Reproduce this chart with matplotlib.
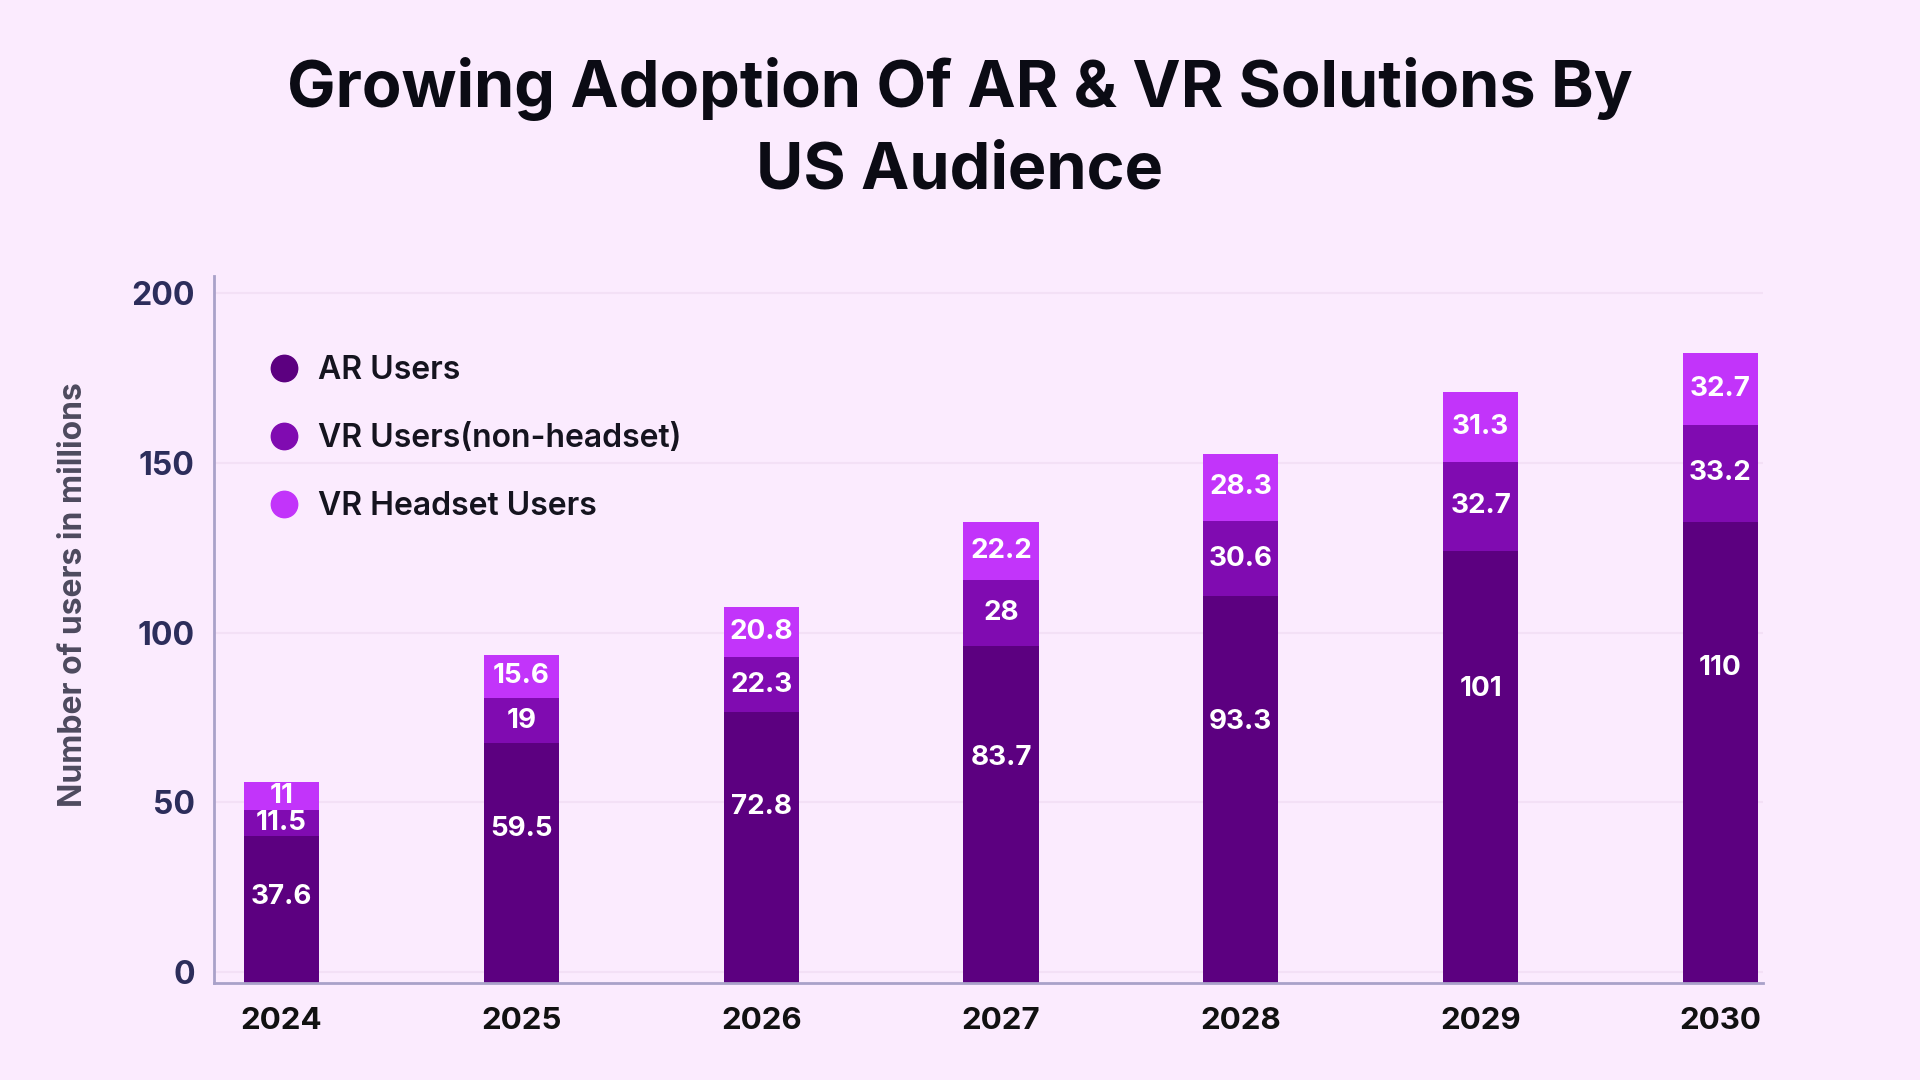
import matplotlib.pyplot as plt
from matplotlib.lines import Line2D
import numpy as np

plt.rcParams['font.family'] = ['Inter', 'DejaVu Sans']

years = ['2024', '2025', '2026', '2027', '2028', '2029', '2030']

# values printed on the bars
ar_users = [37.6, 59.5, 72.8, 83.7, 93.3, 101, 110]
vr_users = [11.5, 19, 22.3, 28, 30.6, 32.7, 33.2]
vr_headset = [11, 15.6, 20.8, 22.2, 28.3, 31.3, 32.7]

# segment heights as drawn in the source graphic (they don't follow the printed values)
ar_bar = [40.1, 67.5, 76.6, 96.2, 110.8, 124.2, 132.6]
vr_bar = [7.8, 13.2, 16.2, 19.2, 22.1, 26.1, 28.6]
headset_bar = [8.1, 12.8, 14.7, 17.2, 19.8, 20.6, 21.2]

series_names = ['AR Users', 'VR Users(non-headset)', 'VR Headset Users']
colors = ['#5c0080', '#800bb1', '#c234fa']
bg = '#fbebfe'

fig = plt.figure(figsize=(19.2, 10.8), dpi=100, facecolor=bg)
ax = fig.add_axes([0.1115, 0.0895, 0.8068, 0.655])
ax.set_facecolor(bg)

x = np.arange(len(years))
base = -3.3  # bars start on the axis line, a little under the 0 tick
w = 0.313
ar_h = np.array(ar_bar) - base
vr_bottom = np.array(ar_bar)
hs_bottom = vr_bottom + np.array(vr_bar)

ax.bar(x, ar_h, bottom=base, width=w, color=colors[0], zorder=2)
ax.bar(x, vr_bar, bottom=vr_bottom, width=w, color=colors[1], zorder=2)
ax.bar(x, headset_bar, bottom=hs_bottom, width=w, color=colors[2], zorder=2)

lab_kw = dict(color='white', fontsize=20, fontweight='bold', ha='center', va='center', zorder=3)
for i in range(len(years)):
    # AR labels sit in the upper part of the dark segment
    ax.text(x[i], 0.73 * ar_bar[i] - 7.2, f'{ar_users[i]:g}', **lab_kw)
    ax.text(x[i], vr_bottom[i] + vr_bar[i] / 2, f'{vr_users[i]:g}', **lab_kw)
    ax.text(x[i], hs_bottom[i] + headset_bar[i] / 2, f'{vr_headset[i]:g}', **lab_kw)

ax.set_xlim(-0.2815, 6.178)
ax.set_ylim(base, 205.1)
ax.set_xticks(x)
ax.set_xticklabels(years, fontsize=22.5, fontweight='bold', color='#111111')
ax.set_yticks([0, 50, 100, 150, 200])
ax.set_yticklabels(['0', '50', '100', '150', '200'], fontsize=23, fontweight='bold', color='#2c2d5b')
ax.tick_params(axis='y', length=0, pad=14)
ax.tick_params(axis='x', length=0, pad=17)

ax.yaxis.grid(True, color='#f3e0f6', linewidth=1.5)
ax.set_axisbelow(True)
for s in ['top', 'right']:
    ax.spines[s].set_visible(False)
for s in ['left', 'bottom']:
    ax.spines[s].set_color('#a9a1c9')
    ax.spines[s].set_linewidth(2)

handles = [Line2D([], [], marker='o', linestyle='', color=c, markersize=19) for c in colors]
ax.legend(handles, series_names, loc='upper left', bbox_to_anchor=(0.035, 0.888),
          frameon=False, labelspacing=1.16, handlelength=1.0, handletextpad=0.55,
          borderpad=0, borderaxespad=0, labelcolor='#15141f',
          prop={'size': 23, 'weight': 'semibold'})

fig.text(0.5, 0.880, 'Growing Adoption Of AR & VR Solutions By\nUS Audience',
         ha='center', va='center', fontsize=46.6, fontweight='bold', color='#0b0b14',
         linespacing=1.44)
fig.text(0.0385, 0.449, 'Number of users in millions', rotation=90, ha='center', va='center',
         fontsize=23, fontweight='bold', color='#4d4a5e')

fig.savefig('out.png', dpi=100, facecolor=bg)
